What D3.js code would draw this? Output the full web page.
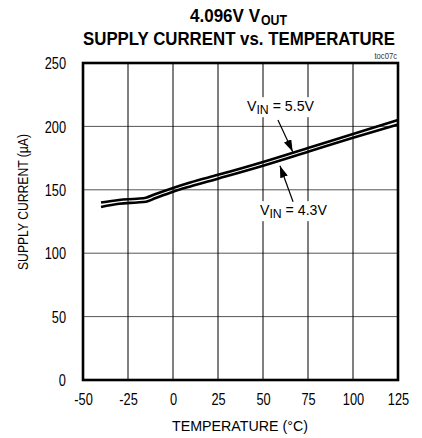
<!DOCTYPE html>
<html><head><meta charset="utf-8">
<script src="https://cdn.jsdelivr.net/npm/d3@7"></script>
<style>
body{margin:0;background:#fff;}
svg{display:block;}
text{font-family:'Liberation Sans',Arial,sans-serif;fill:#000;}
</style></head>
<body>
<svg id="c" width="422" height="438"></svg>
<script>
// ---- data ----
const temperature = [-40, -30, -20, -15, -10, 0, 10, 25, 50, 75, 100, 125];
const vin55 = [140, 142, 143, 143.8, 146.5, 151.5, 156, 161.8, 172, 183, 194, 205];
const vin43 = [136.5, 139, 140, 140.6, 143.3, 148.5, 152.8, 158.8, 169, 180, 191, 201.5];
const xTicks = [-50, -25, 0, 25, 50, 75, 100, 125];
const yTicks = [0, 50, 100, 150, 200, 250];
const seriesLabels = ["5.5V", "4.3V"];

const svg = d3.select("#c");
const x = d3.scaleLinear().domain([-50, 125]).range([83, 398]);
const y = d3.scaleLinear().domain([0, 250]).range([380, 63]);

function squeeze(sel, k) {
  sel.each(function () {
    const w = this.getComputedTextLength();
    d3.select(this).attr("textLength", w * k).attr("lengthAdjust", "spacingAndGlyphs");
  });
}
function fitTo(sel, w) {
  sel.attr("textLength", w).attr("lengthAdjust", "spacingAndGlyphs");
}

// grid
svg.append("g").selectAll("line").data(yTicks.slice(1, -1)).join("line")
  .attr("x1", x(-50)).attr("x2", x(125)).attr("y1", d => y(d)).attr("y2", d => y(d))
  .attr("stroke", "#555").attr("stroke-width", 1);
svg.append("g").selectAll("line").data(xTicks.slice(1, -1)).join("line")
  .attr("y1", y(0)).attr("y2", y(250)).attr("x1", d => x(d)).attr("x2", d => x(d))
  .attr("stroke", "#000").attr("stroke-width", 1);

// axes (labels only)
const fmt = d => String(d);
const xAxis = d3.axisBottom(x).tickValues(xTicks).tickSize(0).tickPadding(0).tickFormat(fmt);
const gx = svg.append("g").attr("transform", `translate(0,${y(0)})`).call(xAxis);
gx.select(".domain").remove();
gx.selectAll("text").attr("dy", null).attr("y", 25).attr("font-size", 16).attr("font-family", null);
squeeze(gx.selectAll("text"), 0.8);

const yAxis = d3.axisLeft(y).tickValues(yTicks).tickSize(0).tickPadding(0).tickFormat(fmt);
const gy = svg.append("g").attr("transform", `translate(66,0)`).call(yAxis);
gy.select(".domain").remove();
gy.selectAll("text").attr("x", 0).attr("dy", "0.36em").attr("font-size", 16).attr("font-family", null);
squeeze(gy.selectAll("text"), 0.8);

// lines
const line = d3.line().x((d, i) => x(temperature[i])).y(d => y(d)).curve(d3.curveMonotoneX);
[vin55, vin43].forEach(s => {
  svg.append("path").attr("d", line(s)).attr("fill", "none")
    .attr("stroke", "#000").attr("stroke-width", 2.6).attr("stroke-linejoin", "round");
});

// border
svg.append("rect").attr("x", x(-50)).attr("y", y(250)).attr("width", x(125) - x(-50)).attr("height", y(0) - y(250))
  .attr("fill", "none").attr("stroke", "#000").attr("stroke-width", 2.6);

// titles
const t1a = svg.append("text").attr("x", 190).attr("y", 22)
  .attr("font-size", 18).attr("font-weight", "bold").text("4.096V V");
fitTo(t1a, 70);
const t1b = svg.append("text").attr("x", 261).attr("y", 25)
  .attr("font-size", 14).attr("font-weight", "bold").text("OUT");
fitTo(t1b, 26);
const t2 = svg.append("text").attr("x", 239).attr("y", 45).attr("text-anchor", "middle")
  .attr("font-size", 18).attr("font-weight", "bold").text("SUPPLY CURRENT vs. TEMPERATURE");
fitTo(t2, 312);
const tc = svg.append("text").attr("x", 397).attr("y", 59).attr("text-anchor", "end")
  .attr("font-size", 9).style("fill", "#333").text("toc07c");
squeeze(tc, 0.85);

const xt = svg.append("text").attr("x", 240).attr("y", 431).attr("text-anchor", "middle")
  .attr("font-size", 15).text("TEMPERATURE (°C)");
fitTo(xt, 136);
const yt = svg.append("text").attr("transform", "translate(28,202) rotate(-90)").attr("text-anchor", "middle")
  .attr("font-size", 15).text("SUPPLY CURRENT (µA)");
fitTo(yt, 136);

// annotations
svg.append("defs").append("marker").attr("id", "ah").attr("viewBox", "0 0 12 8")
  .attr("refX", 12).attr("refY", 4).attr("markerWidth", 12).attr("markerHeight", 8)
  .attr("markerUnits", "userSpaceOnUse").attr("orient", "auto")
  .append("path").attr("d", "M0,0L12,4L0,8Z").attr("fill", "#000");

const annos = [
  {label: seriesLabels[0], tx: 41.1, ty: 212, from: [58.3, 205], to: [66.5, 180]},
  {label: seriesLabels[1], tx: 48.3, ty: 130, from: [66.7, 140.6], to: [59.4, 169]}
];
annos.forEach(a => {
  const g = svg.append("g");
  const txt = g.append("text").attr("x", x(a.tx)).attr("y", y(a.ty)).attr("font-size", 15);
  txt.append("tspan").text("V");
  txt.append("tspan").attr("font-size", 13).attr("dy", 3).text("IN");
  txt.append("tspan").attr("dy", -3).text(" = " + a.label);
  fitTo(txt, 67);
  const bb = txt.node().getBBox();
  g.insert("rect", "text").attr("x", bb.x - 1).attr("y", bb.y).attr("width", bb.width + 2).attr("height", bb.height)
    .attr("fill", "#fff");
  g.append("line").attr("x1", x(a.from[0])).attr("y1", y(a.from[1])).attr("x2", x(a.to[0])).attr("y2", y(a.to[1]))
    .attr("stroke", "#000").attr("stroke-width", 1.2).attr("marker-end", "url(#ah)");
});
</script>
</body></html>
